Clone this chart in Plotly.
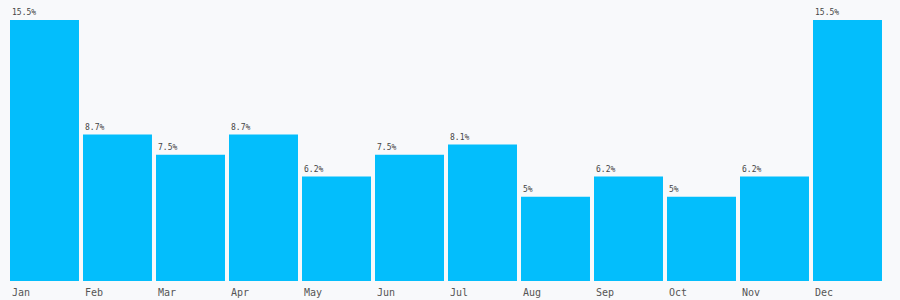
import plotly.graph_objects as go

months = ["Jan", "Feb", "Mar", "Apr", "May", "Jun", "Jul", "Aug", "Sep", "Oct", "Nov", "Dec"]
values = [15.5, 8.7, 7.5, 8.7, 6.2, 7.5, 8.1, 5.0, 6.2, 5.0, 6.2, 15.5]
labels = ["15.5%", "8.7%", "7.5%", "8.7%", "6.2%", "7.5%", "8.1%", "5%", "6.2%", "5%", "6.2%", "15.5%"]

xs = list(range(len(months)))
font_family = "DejaVu Sans Mono, monospace"
value_color = "#444444"
tick_color = "#555555"

fig = go.Figure(go.Bar(
    x=xs, y=values, offset=0, width=0.945,
    marker=dict(color="#03befc", line=dict(width=0)),
    hoverinfo="skip",
))

annotations = []
for x, v, lab, m in zip(xs, values, labels, months):
    annotations.append(dict(x=x, y=v, text=lab, showarrow=False, xanchor="left", yanchor="bottom",
                            xshift=0, yshift=1, font=dict(family=font_family, size=8, color=value_color)))
    annotations.append(dict(x=x, y=0, text=m, showarrow=False, xanchor="left", yanchor="top",
                            xshift=0, yshift=-4, font=dict(family=font_family, size=10, color=tick_color)))

fig.update_layout(
    width=900, height=300,
    margin=dict(l=10, r=14, t=20, b=19),
    paper_bgcolor="#f8f9fb", plot_bgcolor="#f8f9fb",
    xaxis=dict(range=[0, 12], showgrid=False, zeroline=False, showticklabels=False, fixedrange=True),
    yaxis=dict(range=[0, 15.5], showgrid=False, zeroline=False, showticklabels=False, fixedrange=True),
    annotations=annotations,
    showlegend=False,
    font=dict(family=font_family),
)

fig.write_html("out.html", config={"displayModeBar": False})
